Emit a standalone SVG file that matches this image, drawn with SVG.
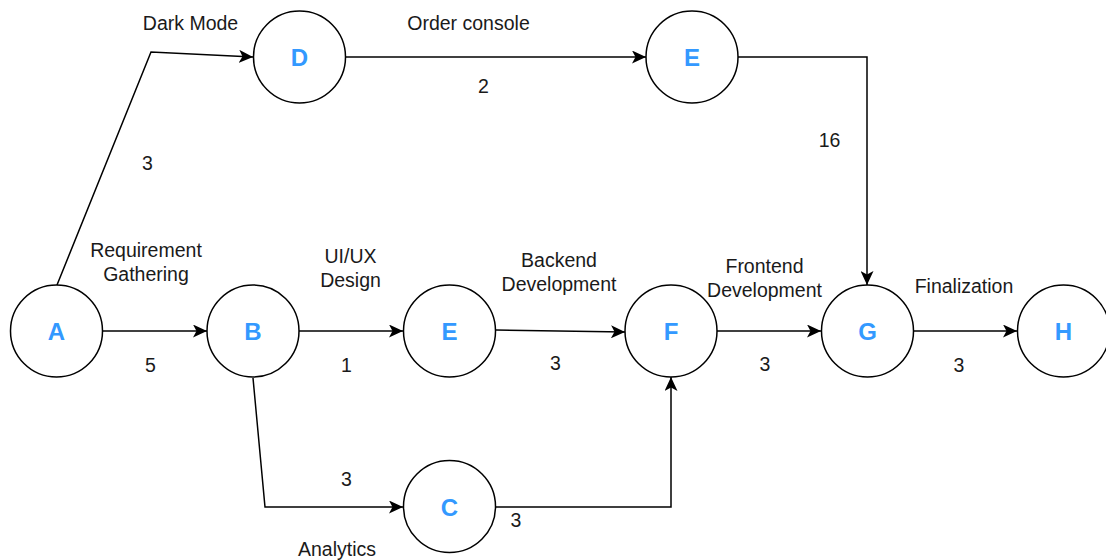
<svg xmlns="http://www.w3.org/2000/svg" width="1106" height="560" viewBox="0 0 1106 560">
<style>
.node circle{fill:#fff;stroke:#000;stroke-width:1.5}
.node text{font-family:"Liberation Sans",Arial,sans-serif;font-weight:bold;font-size:24px;fill:#3399ff;text-anchor:middle}
.edges path{fill:none;stroke:#000;stroke-width:1.5}
.lbl{font-family:"Liberation Sans",Arial,sans-serif;font-size:19.5px;fill:#1a1a1a;text-anchor:middle}
</style>
<defs>
<marker id="arr" markerUnits="userSpaceOnUse" viewBox="0 0 14 13" refX="14" refY="6.5" markerWidth="14" markerHeight="13" orient="auto">
<path d="M0,0 L14,6.5 L0,13 L3.5,6.5 Z" fill="#000"/>
</marker>
</defs>
<rect width="1106" height="560" fill="#fff"/>
<g class="edges">
<path d="M57,285 L151,52 L253,57" marker-end="url(#arr)"/>
<path d="M346,57 L646,57" marker-end="url(#arr)"/>
<path d="M738,57 L867,57 L867,285" marker-end="url(#arr)"/>
<path d="M103,331 L207,331" marker-end="url(#arr)"/>
<path d="M299,331 L403,331" marker-end="url(#arr)"/>
<path d="M496,330 L625,332" marker-end="url(#arr)"/>
<path d="M717,331 L821,331" marker-end="url(#arr)"/>
<path d="M914,331 L1017,331" marker-end="url(#arr)"/>
<path d="M253,378 L265,507 L403,507" marker-end="url(#arr)"/>
<path d="M496,507 L671,507 L671,377" marker-end="url(#arr)"/>
</g>
<g id="labels">
<text class="lbl" x="190.5" y="30">Dark Mode</text>
<text class="lbl" x="147.5" y="170">3</text>
<text class="lbl" x="468.5" y="30">Order console</text>
<text class="lbl" x="483.5" y="92.5">2</text>
<text class="lbl" x="829.5" y="147">16</text>
<text class="lbl" x="146" y="257">Requirement</text>
<text class="lbl" x="146" y="281">Gathering</text>
<text class="lbl" x="150.5" y="372">5</text>
<text class="lbl" x="350.5" y="263">UI/UX</text>
<text class="lbl" x="350.5" y="287">Design</text>
<text class="lbl" x="346.5" y="372">1</text>
<text class="lbl" x="559" y="266.5">Backend</text>
<text class="lbl" x="559" y="290.5">Development</text>
<text class="lbl" x="555.5" y="370">3</text>
<text class="lbl" x="764.5" y="272.5">Frontend</text>
<text class="lbl" x="764.5" y="296.5">Development</text>
<text class="lbl" x="765" y="371">3</text>
<text class="lbl" x="964" y="293">Finalization</text>
<text class="lbl" x="959" y="371.5">3</text>
<text class="lbl" x="346.5" y="486">3</text>
<text class="lbl" x="516" y="526.5">3</text>
<text class="lbl" x="337" y="556">Analytics</text>
</g>
<g id="node-A" class="node"><circle cx="56.5" cy="331" r="46"/><text x="56.5" y="340">A</text></g>
<g id="node-B" class="node"><circle cx="253" cy="331" r="46"/><text x="253" y="340">B</text></g>
<g id="node-E1" class="node"><circle cx="449.5" cy="331" r="46"/><text x="449.5" y="340">E</text></g>
<g id="node-F" class="node"><circle cx="671" cy="331" r="46"/><text x="671" y="340">F</text></g>
<g id="node-G" class="node"><circle cx="867.5" cy="331" r="46"/><text x="867.5" y="340">G</text></g>
<g id="node-H" class="node"><circle cx="1063.5" cy="331" r="46"/><text x="1063.5" y="340">H</text></g>
<g id="node-D" class="node"><circle cx="299.5" cy="57" r="46"/><text x="299.5" y="66">D</text></g>
<g id="node-E2" class="node"><circle cx="692" cy="57" r="46"/><text x="692" y="66">E</text></g>
<g id="node-C" class="node"><circle cx="449.5" cy="506.5" r="46"/><text x="449.5" y="515.5">C</text></g>
</svg>
